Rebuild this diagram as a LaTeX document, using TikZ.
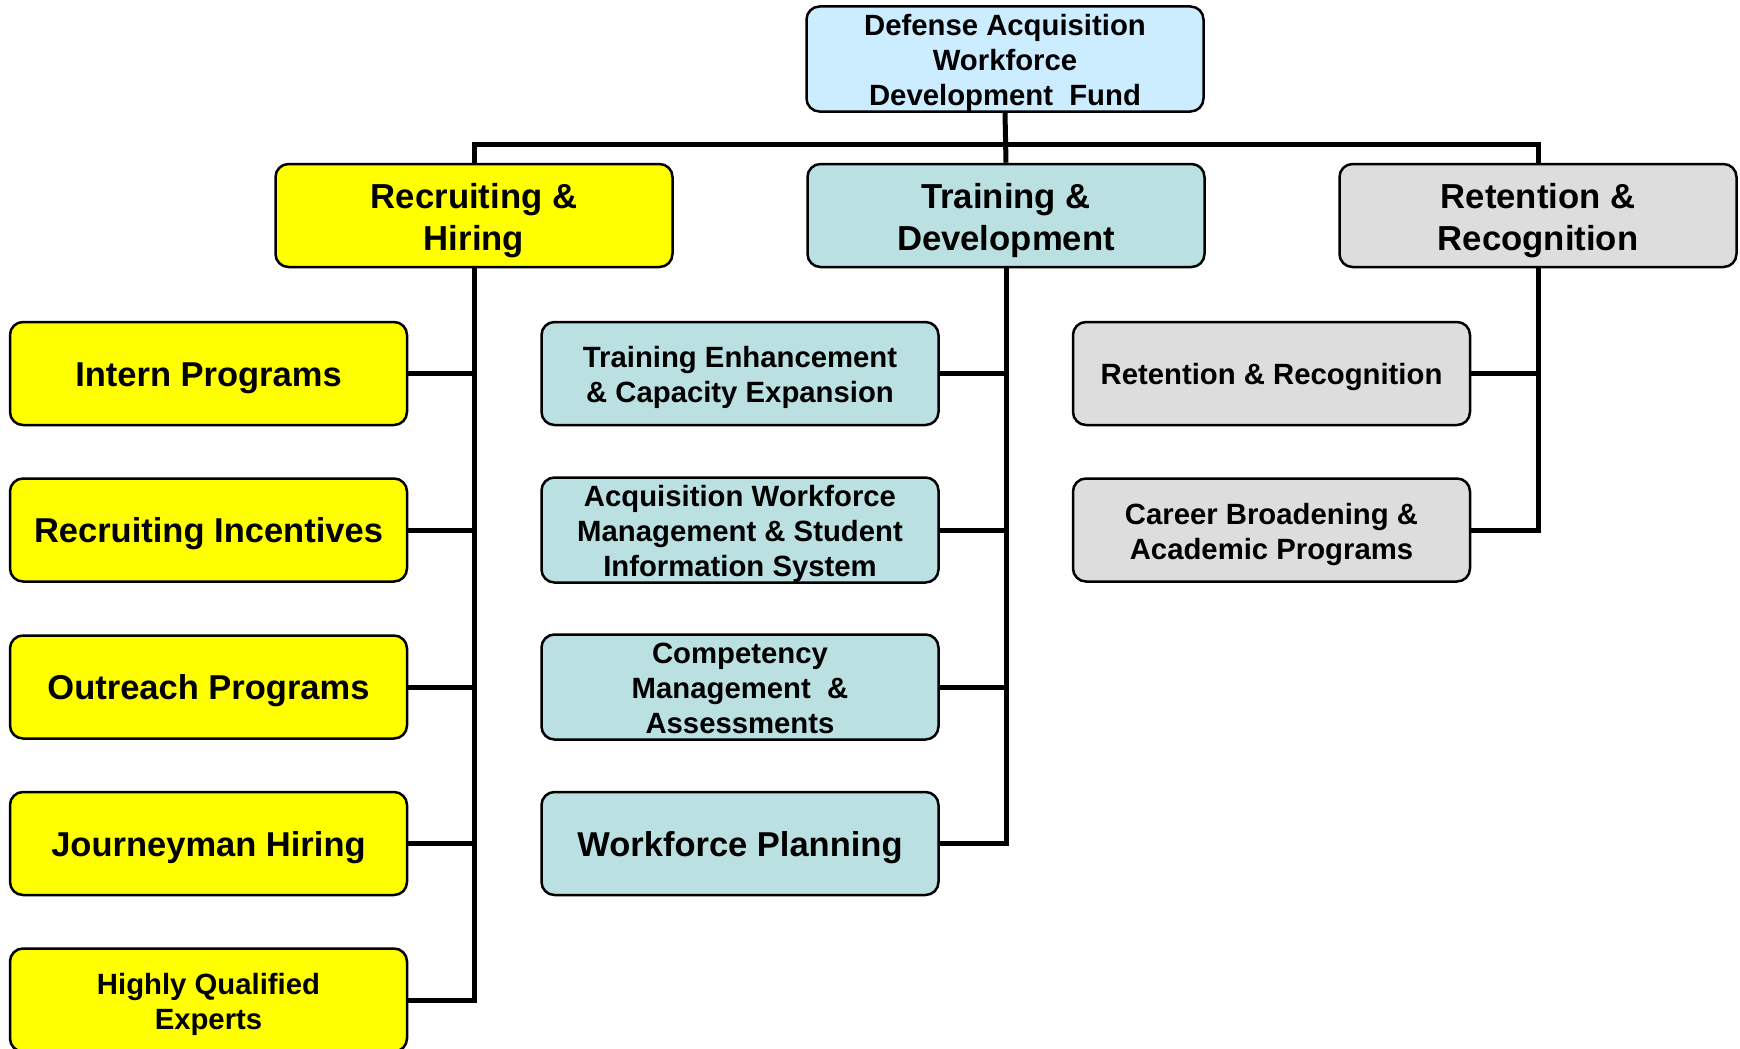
\documentclass[tikz,border=0pt]{standalone}
\usepackage{fontspec}
\setmainfont{Liberation Sans}
\definecolor{topblue}{HTML}{CCECFF}
\definecolor{tdteal}{HTML}{BAE0E2}
\definecolor{rrgray}{HTML}{DDDDDD}
\definecolor{rhyellow}{HTML}{FFFF00}
\newcommand{\dn}[2][4.5pt]{\raisebox{-#1}[\height][\depth]{\begin{tabular}{@{}c@{}}#2\end{tabular}}}
\tikzset{
  box/.style={draw=black, line width=2.5pt, rounded corners=13pt, minimum width=397pt, minimum height=103pt, align=center, inner sep=0pt, font=\bfseries},
  big/.style={font=\fontsize{34.7}{42}\selectfont\bfseries},
  mid/.style={font=\fontsize{34.5}{40}\selectfont\bfseries},
  small/.style={font=\fontsize{29.3}{35}\selectfont\bfseries},
  conn/.style={line width=5pt, line join=miter},
}
\begin{document}
\begin{tikzpicture}[x=1pt,y=-1pt]
\useasboundingbox (0,0) rectangle (1740,1049);
\node[box, fill=topblue, small] (top) at (1005,59) {\dn[5pt]{Defense Acquisition\\Workforce\\Development\ \ Fund}};
\node[box, fill=rhyellow, big] (rh) at (474,215.5) {\dn[6pt]{Recruiting \&\\Hiring}};
\node[box, fill=tdteal, big] (td) at (1006,215.5) {\dn[6pt]{Training \&\\Development}};
\node[box, fill=rrgray, big] (rr) at (1538,215.5) {\dn[6pt]{Retention \&\\Recognition}};
% left column
\node[box, fill=rhyellow, mid] (l1) at (208.5,373.5) {\dn{Intern Programs}};
\node[box, fill=rhyellow, mid] (l2) at (208.5,530) {\dn{Recruiting Incentives}};
\node[box, fill=rhyellow, mid] (l3) at (208.5,687) {\dn{Outreach Programs}};
\node[box, fill=rhyellow, mid] (l4) at (208.5,843.5) {\dn{Journeyman Hiring}};
\node[box, fill=rhyellow, small] (l5) at (208.5,1000) {\dn{Highly Qualified\\Experts}};
% middle column
\node[box, fill=tdteal, small] (m1) at (740,373.5) {\dn[4pt]{Training Enhancement\\\& Capacity Expansion}};
\node[box, fill=tdteal, small] (m2) at (740,530) {\dn[4pt]{Acquisition Workforce\\Management \& Student\\Information System}};
\node[box, fill=tdteal, small] (m3) at (740,687) {\dn[4pt]{Competency\\Management\ \ \&\\Assessments}};
\node[box, fill=tdteal, mid] (m4) at (740,843.5) {\dn{Workforce Planning}};
% right column
\node[box, fill=rrgray, small] (r1) at (1271.5,373.5) {\dn[4pt]{Retention \& Recognition}};
\node[box, fill=rrgray, small] (r2) at (1271.5,530) {\dn{Career Broadening \&\\Academic Programs}};
% connectors
\coordinate (bus) at (1006,144);
\draw[conn] (top.south) -- (td.north);
\draw[conn] (rh.north) |- (bus) -| (rr.north);
\draw[conn] (rh.south) -- (rh.south |- l5.east) -- (l5.east);
\foreach \n in {l1,l2,l3,l4} \draw[conn] (\n.east) -- (rh.south |- \n.east);
\draw[conn] (td.south) -- (td.south |- m4.east) -- (m4.east);
\foreach \n in {m1,m2,m3} \draw[conn] (\n.east) -- (td.south |- \n.east);
\draw[conn] (rr.south) -- (rr.south |- r2.east) -- (r2.east);
\draw[conn] (r1.east) -- (rr.south |- r1.east);
\end{tikzpicture}
\end{document}
